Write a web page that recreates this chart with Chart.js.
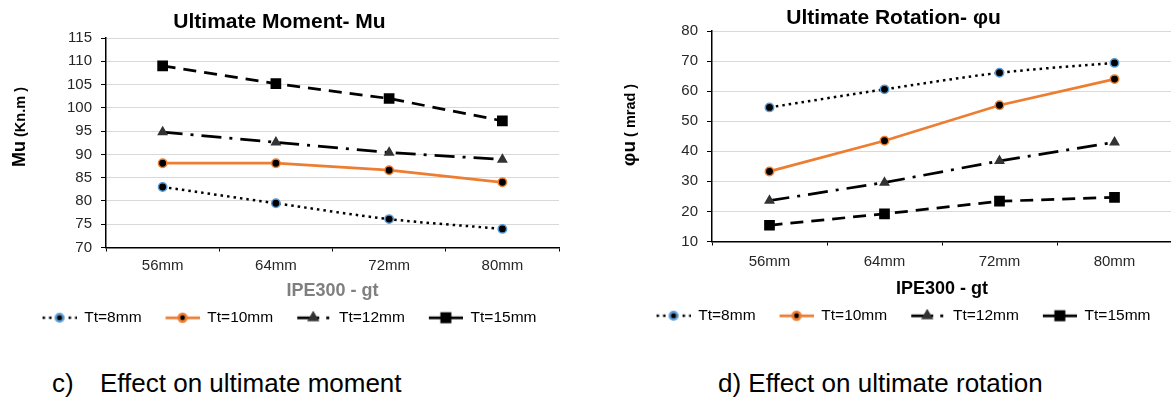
<!DOCTYPE html>
<html>
<head>
<meta charset="utf-8">
<script src="https://cdn.jsdelivr.net/npm/chart.js@4.4.0/dist/chart.umd.min.js"></script>
<style>
  html, body { margin: 0; padding: 0; background: #fff; }
  body { width: 1171px; height: 398px; overflow: hidden; position: relative; font-family: "Liberation Sans", Arial, sans-serif; }
  canvas { position: absolute; top: 0; }
  #momentChart { left: 0; }
  #rotationChart { left: 615px; }
  .caption { position: absolute; top: 370px; font-size: 26px; line-height: 26px; color: #000; white-space: pre; }
</style>
</head>
<body>
<canvas id="momentChart" width="574" height="340"></canvas>
<canvas id="rotationChart" width="575" height="340"></canvas>
<div class="caption" style="left:52px">c)</div>
<div class="caption" style="left:100px">Effect on ultimate moment</div>
<div class="caption" style="left:718px">d) Effect on ultimate rotation</div>
<script>
const categories = ["56mm", "64mm", "72mm", "80mm"];
const seriesLabels = ["Tt=8mm", "Tt=10mm", "Tt=12mm", "Tt=15mm"];

// ultimate moment Mu (kN.m)
const momentTt8 = [83, 79.5, 76.1, 74];
const momentTt10 = [88.1, 88.1, 86.6, 84];
const momentTt12 = [94.8, 92.6, 90.4, 88.9];
const momentTt15 = [109, 105.2, 102, 97.2];
const momentTicks = [70, 115, 5]; // min, max, step

// ultimate rotation phi_u (mrad)
const rotationTt8 = [54.6, 60.6, 66.1, 69.4];
const rotationTt10 = [33.3, 43.5, 55.3, 64];
const rotationTt12 = [23.6, 29.6, 36.8, 43];
const rotationTt15 = [15.4, 19.2, 23.4, 24.7];
const rotationTicks = [10, 80, 10];

Chart.defaults.font.family = '"Liberation Sans", Arial, sans-serif';
Chart.defaults.color = "#262626";

const styles = [
  { color: "#000", dash: [2.5, 4], width: 2.5, point: "circle", radius: 4.2, fill: "#000", border: "#5b9bd5", tension: 0.3 },
  { color: "#ed7d31", dash: [], width: 2.75, point: "circle", radius: 4.2, fill: "#000", border: "#ed7d31", tension: 0 },
  { color: "#000", dash: [20, 8, 3, 8], width: 2.75, point: "triangle", radius: 4.8, fill: "#333", border: "#333", tension: 0 },
  { color: "#000", dash: [13, 8], width: 2.75, point: "rect", radius: 6.5, fill: "#000", border: "#000", tension: 0 }
];

// little line + marker sample for the legend
function legendIcon(i) {
  const s = styles[i];
  const c = document.createElement("canvas");
  c.width = 54;
  c.height = 14;
  const g = c.getContext("2d");
  g.strokeStyle = s.color;
  g.lineWidth = s.width;
  g.beginPath();
  if (i === 0) {
    g.setLineDash([2.5, 4]);
    g.moveTo(20, 7); g.lineTo(54, 7);
  } else if (i === 2) {
    g.moveTo(20, 7); g.lineTo(42, 7);
    g.moveTo(49, 7); g.lineTo(52, 7);
  } else {
    g.moveTo(20, 7); g.lineTo(54, 7);
  }
  g.stroke();
  g.setLineDash([]);
  g.fillStyle = s.fill;
  g.strokeStyle = s.border;
  Chart.helpers.drawPoint(g, { pointStyle: s.point, radius: s.radius * 0.9, rotation: 0, borderWidth: 1.5 }, i === 2 ? 36 : 37, 7);
  return c;
}

function yTitle(parts, x, y) {
  return {
    id: "yTitle",
    afterDraw(chart) {
      const ctx = chart.ctx;
      ctx.save();
      ctx.translate(x, y);
      ctx.rotate(-Math.PI / 2);
      ctx.fillStyle = "#000";
      ctx.textBaseline = "alphabetic";
      let total = 0;
      parts.forEach(p => { ctx.font = p.font; total += ctx.measureText(p.text).width; });
      let cx = -total / 2;
      parts.forEach(p => {
        ctx.font = p.font;
        ctx.fillText(p.text, cx, 6.5);
        cx += ctx.measureText(p.text).width;
      });
      ctx.restore();
    }
  };
}

function makeChart(id, series, ticks, cfg) {
  return new Chart(document.getElementById(id), {
    type: "line",
    data: {
      labels: categories,
      datasets: series.map((v, i) => ({
        label: seriesLabels[i],
        data: v,
        borderColor: styles[i].color,
        borderWidth: styles[i].width,
        borderDash: styles[i].dash,
        tension: styles[i].tension,
        pointStyle: styles[i].point,
        pointRadius: styles[i].radius,
        pointBackgroundColor: styles[i].fill,
        pointBorderColor: styles[i].border,
        pointBorderWidth: 1.5,
        fill: false
      }))
    },
    options: {
      responsive: false,
      animation: false,
      layout: { padding: { left: 0, right: cfg.padRight, top: 0, bottom: cfg.padBottom } },
      plugins: {
        title: {
          display: true,
          text: cfg.title,
          color: "#000",
          font: { size: 21, weight: "bold" },
          padding: cfg.titlePad
        },
        legend: {
          position: "bottom",
          labels: {
            usePointStyle: true,
            pointStyleWidth: 54,
            padding: 4,
            color: "#000",
            font: { size: 15.5 },
            generateLabels: chart => chart.data.datasets.map((ds, i) => ({
              text: ds.label,
              pointStyle: legendIcon(i),
              datasetIndex: i,
              fontColor: "#000",
              fillStyle: "transparent",
              strokeStyle: "transparent",
              lineWidth: 0,
              hidden: false
            }))
          }
        },
        tooltip: { enabled: false }
      },
      scales: {
        x: {
          offset: true,
          afterFit: s => { s.height = cfg.xHeight; },
          grid: { offset: true, drawOnChartArea: false, color: "#000", tickLength: 4 },
          border: { color: "#000", width: 1.5 },
          ticks: { font: { size: 15 }, padding: cfg.xTickPad },
          title: {
            display: true,
            text: "IPE300 - gt",
            color: cfg.xTitleColor,
            font: { size: 18, weight: "bold" },
            padding: { top: 0, bottom: 3.7 }
          }
        },
        y: {
          min: ticks[0],
          max: ticks[1],
          afterFit: s => { s.width = cfg.yWidth; },
          grid: { color: "#d9d9d9", tickColor: "#000", tickLength: 5 },
          border: { color: "#000", width: 1.5 },
          ticks: { stepSize: ticks[2], font: { size: 15 }, padding: 9 }
        }
      }
    },
    plugins: [yTitle(cfg.yTitle, cfg.yTitleX, cfg.yTitleY)]
  });
}

makeChart("momentChart", [momentTt8, momentTt10, momentTt12, momentTt15], momentTicks, {
  title: "Ultimate Moment- Mu",
  titlePad: { top: 9.4, bottom: 3.4 },
  padRight: 15,
  padBottom: 4.5,
  xHeight: 58.5,
  xTickPad: 5,
  xTitleColor: "#7f7f7f",
  yWidth: 106,
  yTitle: [{ text: "Mu", font: "bold 18px 'Liberation Sans', Arial" }, { text: " (Kn.m )", font: "bold 14.5px 'Liberation Sans', Arial" }],
  yTitleX: 18,
  yTitleY: 127
});

makeChart("rotationChart", [rotationTt8, rotationTt10, rotationTt12, rotationTt15], rotationTicks, {
  title: "Ultimate Rotation- φu",
  titlePad: { top: 5.4, bottom: 0.4 },
  padRight: 18,
  padBottom: 6.5,
  xHeight: 62.5,
  xTickPad: 7,
  xTitleColor: "#000",
  yWidth: 97,
  yTitle: [{ text: "φu", font: "bold 19px 'Liberation Sans', Arial" }, { text: " ( mrad )", font: "bold 14.5px 'Liberation Sans', Arial" }],
  yTitleX: 13,
  yTitleY: 125
});
</script>
</body>
</html>
